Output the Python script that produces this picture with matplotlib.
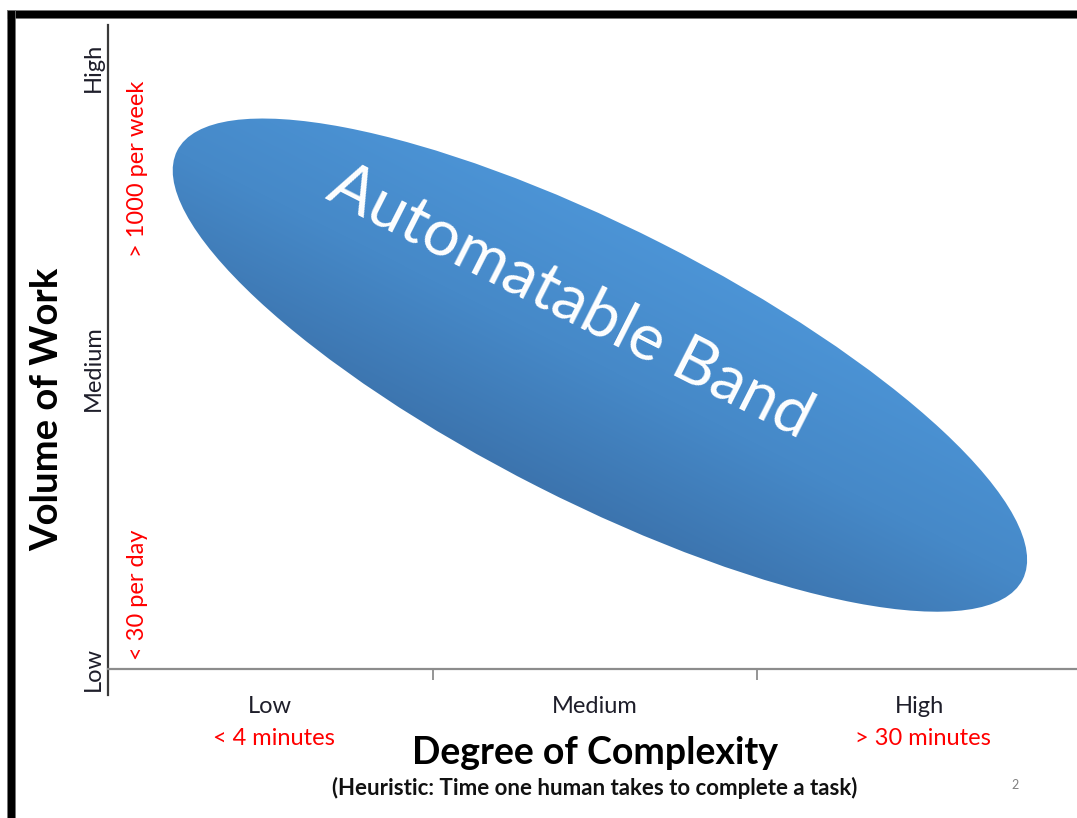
import numpy as np
import matplotlib
matplotlib.use("Agg")
import matplotlib.pyplot as plt
import matplotlib.transforms as mtransforms
from matplotlib.patches import Ellipse, Rectangle
from matplotlib.colors import LinearSegmentedColormap

plt.rcParams['font.family'] = ['Lato', 'DejaVu Sans']

# Complexity categories along x, volume levels along y
complexity_levels = ['Low', 'Medium', 'High']
complexity_times = ['< 4 minutes', '', '> 30 minutes']
volume_levels = ['Low', 'Medium', 'High']
volume_values = [0, 0.5, 1]
volume_notes = ['< 30 per day', '> 1000 per week']

# Automatable band: centre in (complexity, volume) units, size in inches, tilt in degrees
band_center = (1.515, 0.505)
band_size = (9.48, 2.73)
band_angle = -26.9
band_label = 'Automatable Band'

fig = plt.figure(figsize=(10.77, 8.18), dpi=100)
ax = fig.add_axes([0.1003, 0.1504, 0.9044, 0.819])
ax.set_xlim(0, 3)
ax.set_ylim(-0.043, 1.07)

# axes look: only left and bottom lines
for side in ['top', 'right']:
    ax.spines[side].set_visible(False)
ax.spines['left'].set_color('#3a3a3a')
ax.spines['left'].set_linewidth(1.6)
ax.spines['bottom'].set_position(('data', 0))
ax.spines['bottom'].set_color('#8c8c8c')
ax.spines['bottom'].set_linewidth(1.6)

ax.set_xticks([1, 2])
ax.set_xticklabels([])
ax.tick_params(axis='x', direction='out', length=8, width=1.3, color='#8c8c8c')
ax.set_yticks(volume_values)
ax.set_yticklabels(volume_levels, rotation=90, va='center', fontsize=17, color='#1e1e2a')
ax.tick_params(axis='y', length=0, pad=3)

# category labels under the x axis
for i, (lvl, t) in enumerate(zip(complexity_levels, complexity_times)):
    ax.text(i + 0.5, -0.062, lvl, ha='center', va='center', fontsize=17, color='#1e1e2a')
    if t:
        ax.text(i + 0.51, -0.116, t, ha='center', va='center', fontsize=17, color='red')

# red notes beside the y axis
ax.text(0.092, 0.015, volume_notes[0], rotation=90, ha='center', va='bottom', fontsize=17, color='red')
ax.text(0.092, 0.978, volume_notes[1], rotation=90, ha='center', va='top', fontsize=17, color='red')

ax.text(1.5, -0.14, 'Degree of Complexity', ha='center', va='center',
        fontsize=27, fontweight='bold', color='black')
fig.text(595 / 1077, 1 - 788 / 818, '(Heuristic: Time one human takes to complete a task)',
         ha='center', va='center', fontsize=16, fontweight='bold', color='#111111')
fig.text(47 / 1077, 1 - 409 / 818, 'Volume of Work', rotation=90, ha='center', va='center',
         fontsize=27.5, fontweight='bold', color='black')
fig.text(1015 / 1077, 1 - 785 / 818, '2', ha='center', va='center', fontsize=9, color='#808080')

# band ellipse, sized in inches so it keeps its shape on screen
band_trans = fig.dpi_scale_trans + mtransforms.ScaledTranslation(band_center[0], band_center[1], ax.transData)
band = Ellipse((0, 0), band_size[0], band_size[1], angle=band_angle,
               transform=band_trans, facecolor='none', edgecolor='none')
ax.add_patch(band)

# gradient fill: lighter towards upper right, darker towards lower left
direction = np.array([-0.45, -0.89])
bbox = ax.get_window_extent()
xs = np.linspace(bbox.x0, bbox.x1, int(bbox.width))
ys = np.linspace(bbox.y1, bbox.y0, int(bbox.height))
gx, gy = np.meshgrid(xs, ys)
shade = gx * direction[0] + gy * direction[1]
verts = band.get_verts()
proj = verts @ direction
band_cmap = LinearSegmentedColormap.from_list('band', ['#4c94d6', '#4689c8', '#3c74ae'])
img = ax.imshow(shade, cmap=band_cmap, vmin=proj.min(), vmax=proj.max(),
                extent=(*ax.get_xlim(), *ax.get_ylim()), origin='upper',
                aspect='auto', interpolation='bilinear', zorder=1)
img.set_clip_path(band)

ax.text(1.423, 0.610, band_label, rotation=band_angle, ha='center', va='center',
        rotation_mode='anchor', fontsize=47, color='white', zorder=3)

# thick frame along the top and left edges
fig.add_artist(Rectangle((7 / 1077, 1 - 18 / 818), 1, 8 / 818, transform=fig.transFigure,
                         facecolor='black', edgecolor='#777777', linewidth=0.6))
fig.add_artist(Rectangle((7 / 1077, 0), 8 / 1077, 1 - 10 / 818, transform=fig.transFigure,
                         facecolor='black', edgecolor='#777777', linewidth=0.6))

fig.savefig('out.png', dpi=100)
